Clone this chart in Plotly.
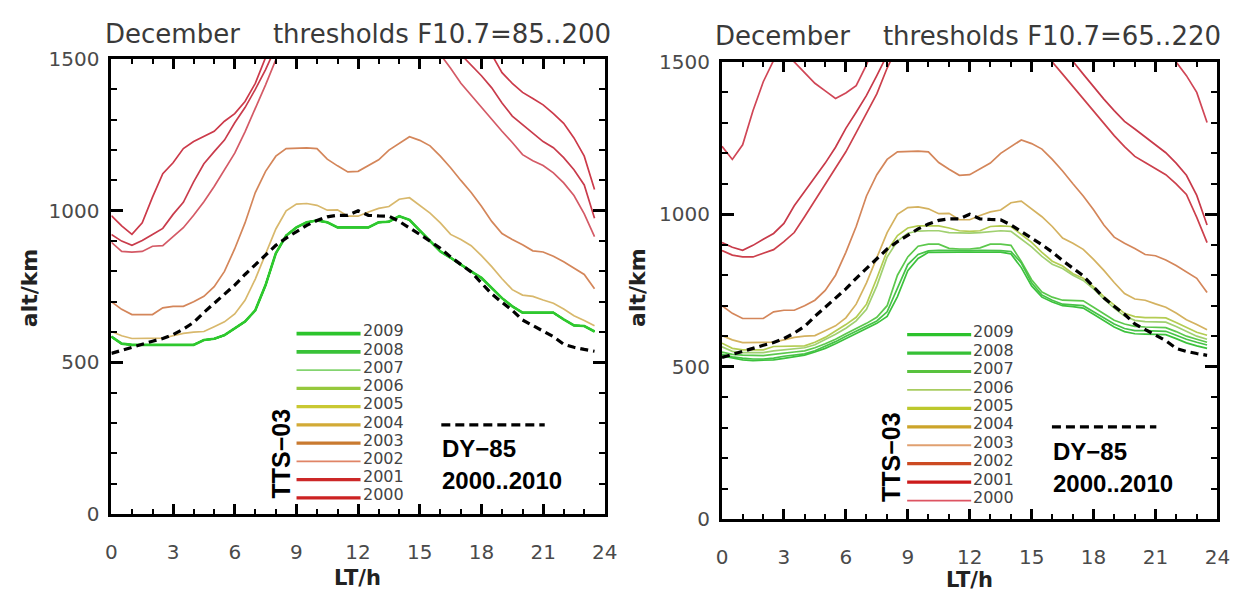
import numpy as np
import plotly.graph_objects as go

# ---------------------------------------------------------------- data
LT = np.arange(0, 24, 0.5)          # local time grid, hours

# F10.7 = 85..200 thresholds (left panel)
left_2000 = [984, 950, 922, 960, 1045, 1122, 1158, 1205, 1228, 1245, 1262, 1295, 1320, 1360, 1420, 1505,
             1600, 1680, 1760, 1830, 1890, 1930, 1960, 1980, 1990, 1990, 1980, 1960, 1930, 1890, 1840, 1790,
             1740, 1690, 1640, 1600, 1555, 1515, 1455, 1420, 1390, 1370, 1349, 1320, 1288, 1240, 1180, 1070]
left_2001 = [922, 900, 886, 902, 922, 942, 988, 1028, 1095, 1155, 1195, 1233, 1290, 1340, 1400, 1465,
             1540, 1610, 1670, 1720, 1760, 1790, 1810, 1820, 1820, 1810, 1790, 1760, 1720, 1680, 1640, 1600,
             1570, 1545, 1515, 1480, 1445, 1405, 1355, 1312, 1285, 1255, 1228, 1208, 1175, 1135, 1085, 975]
left_2002 = [896, 866, 864, 866, 883, 885, 915, 944, 985, 1030, 1080, 1133, 1190, 1260, 1335, 1415,
             1498, 1560, 1610, 1650, 1680, 1700, 1710, 1712, 1705, 1690, 1670, 1645, 1615, 1590, 1560, 1535,
             1515, 1470, 1420, 1380, 1340, 1300, 1262, 1225, 1185, 1165, 1149, 1125, 1092, 1050, 990, 915]
# 2005..2009 coincide at the lower F10.7 limit
left_2005_09 = [585, 562, 558, 558, 558, 558, 558, 558, 558, 574, 578, 590, 612, 635, 672, 755,
                860, 918, 945, 962, 968, 962, 945, 945, 945, 945, 962, 964, 982, 970, 935, 900,
                866, 845, 822, 800, 779, 745, 712, 685, 664, 664, 664, 664, 642, 622, 620, 602]

# shared by both panels
tts_2003 = [700, 675, 658, 658, 658, 680, 685, 685, 700, 718, 750, 800, 875, 960, 1060, 1130,
            1180, 1205, 1207, 1207, 1205, 1170, 1148, 1128, 1130, 1148, 1168, 1200, 1222, 1244, 1232, 1214,
            1180, 1142, 1100, 1060, 1015, 965, 925, 905, 888, 868, 864, 850, 832, 812, 790, 743]
tts_2004 = [602, 588, 579, 579, 579, 580, 588, 596, 600, 602, 618, 634, 660, 705, 775, 860,
            940, 1000, 1022, 1024, 1018, 1002, 1003, 982, 982, 996, 1008, 1014, 1038, 1043, 1018, 992,
            960, 922, 905, 885, 852, 816, 776, 740, 722, 718, 706, 695, 676, 654, 638, 621]
dy85 = [530, 540, 552, 562, 570, 579, 592, 610, 632, 665, 695, 725, 755, 790, 822, 855,
        886, 910, 932, 952, 968, 980, 985, 985, 1000, 985, 983, 982, 965, 945, 922, 900,
        876, 848, 822, 798, 762, 726, 698, 672, 640, 622, 605, 585, 560, 550, 543, 537]

# F10.7 = 65..220 thresholds (right panel)
right_2000 = [1223, 1180, 1228, 1340, 1435, 1505, 1530, 1500, 1465, 1430, 1405, 1380, 1398, 1422, 1490, 1580,
              1680, 1780, 1870, 1950, 2010, 2060, 2090, 2110, 2120, 2115, 2100, 2075, 2040, 2000, 1955, 1910,
              1860, 1815, 1770, 1730, 1690, 1655, 1625, 1600, 1580, 1560, 1545, 1525, 1500, 1455, 1400, 1301]
right_2001 = [907, 892, 882, 898, 918, 937, 970, 1028, 1075, 1122, 1168, 1220, 1282, 1335, 1390, 1455,
              1525, 1600, 1660, 1710, 1750, 1780, 1800, 1810, 1810, 1800, 1780, 1750, 1715, 1675, 1640, 1600,
              1570, 1540, 1502, 1460, 1418, 1378, 1340, 1305, 1280, 1255, 1228, 1202, 1168, 1128, 1062, 965]
right_2002 = [881, 866, 860, 860, 872, 884, 910, 940, 992, 1045, 1098, 1150, 1205, 1268, 1330, 1395,
              1480, 1550, 1600, 1640, 1670, 1690, 1700, 1705, 1700, 1688, 1670, 1648, 1620, 1590, 1560, 1530,
              1500, 1460, 1420, 1378, 1340, 1297, 1258, 1222, 1190, 1170, 1150, 1130, 1100, 1065, 990, 907]
right_2005 = [577, 560, 555, 555, 555, 566, 566, 566, 568, 580, 596, 617, 638, 662, 705, 790,
              880, 930, 955, 962, 962, 962, 955, 946, 944, 946, 960, 962, 960, 935, 908, 875,
              846, 830, 805, 790, 762, 730, 702, 675, 664, 661, 661, 660, 645, 628, 613, 603]
right_2006 = [565, 550, 546, 546, 546, 552, 556, 558, 562, 572, 588, 606, 626, 650, 688, 765,
              860, 912, 938, 945, 946, 946, 940, 938, 938, 940, 944, 946, 944, 920, 893, 862,
              836, 822, 800, 783, 755, 722, 692, 666, 652, 648, 648, 646, 632, 616, 600, 590]
right_2007 = [548, 540, 538, 536, 536, 540, 545, 548, 552, 562, 575, 590, 608, 625, 642, 662,
              700, 800, 860, 895, 902, 902, 888, 886, 886, 890, 902, 902, 898, 845, 785, 745,
              728, 718, 718, 716, 695, 672, 652, 640, 632, 630, 630, 628, 615, 600, 590, 580]
right_2008 = [540, 532, 528, 525, 525, 528, 534, 538, 542, 552, 566, 582, 600, 617, 634, 650,
              680, 760, 835, 868, 880, 882, 881, 881, 881, 882, 882, 881, 878, 840, 775, 735,
              718, 705, 703, 700, 680, 660, 640, 625, 618, 618, 618, 616, 603, 590, 580, 571]
right_2009 = [535, 528, 522, 520, 520, 522, 527, 532, 538, 548, 560, 575, 592, 610, 626, 642,
              665, 730, 815, 855, 875, 876, 876, 876, 876, 876, 876, 876, 870, 825, 765, 728,
              712, 700, 697, 692, 672, 650, 630, 615, 608, 607, 607, 605, 592, 578, 568, 560]

YEARS = list(range(2000, 2010))

left_series = {2000: left_2000, 2001: left_2001, 2002: left_2002, 2003: tts_2003, 2004: tts_2004,
               2005: left_2005_09, 2006: left_2005_09, 2007: left_2005_09, 2008: left_2005_09,
               2009: left_2005_09}
right_series = {2000: right_2000, 2001: right_2001, 2002: right_2002, 2003: tts_2003, 2004: tts_2004,
                2005: right_2005, 2006: right_2006, 2007: right_2007, 2008: right_2008, 2009: right_2009}

# ---------------------------------------------------------------- styles
# year -> (legend colour, legend line width, curve colour)
left_style = {2000: ("#cc2222", 3.2, "#cc3a4a"), 2001: ("#cc2828", 3.2, "#c93c4c"),
              2002: ("#e08466", 1.8, "#d45a66"), 2003: ("#c97a30", 3.2, "#d4865a"),
              2004: ("#d2aa36", 3.2, "#d8b86c"), 2005: ("#c9c832", 3.2, "#30c830"),
              2006: ("#96c83c", 3.2, "#30c830"), 2007: ("#84d470", 1.8, "#30c830"),
              2008: ("#38c238", 3.6, "#30c830"), 2009: ("#2cc42c", 3.6, "#2ec82e")}
right_style = {2000: ("#dd5462", 1.8, "#d04656"), 2001: ("#cc1a1a", 3.2, "#c83a4a"),
               2002: ("#cc4a22", 3.2, "#cc404c"), 2003: ("#e0a070", 1.8, "#d4865a"),
               2004: ("#cca42a", 3.2, "#d4b260"), 2005: ("#bcc82c", 3.2, "#b4cc52"),
               2006: ("#a8cc60", 1.8, "#a0d070"), 2007: ("#58c23e", 3.2, "#5cc84c"),
               2008: ("#36c036", 3.2, "#48c248"), 2009: ("#2cc22c", 3.2, "#3cc23c")}

W, H = 1256, 603


def fx(x):
    return x / W


def fy(y):
    return 1 - y / H


TICK_FONT = dict(family="DejaVu Sans", size=20, color="#4a4a4a")
BOLD_FONT = "Liberation Sans, Arial, sans-serif"

fig = go.Figure()

panels = [
    dict(series=left_series, style=left_style, xa="x", ya="y", wide2009=True),
    dict(series=right_series, style=right_style, xa="x2", ya="y2", wide2009=False),
]

for p in panels:
    for yr in YEARS:
        col = p["style"][yr][2]
        width = 2.6 if (p["wide2009"] and yr == 2009) else 1.7
        fig.add_trace(go.Scatter(x=LT, y=p["series"][yr], mode="lines",
                                 line=dict(color=col, width=width),
                                 xaxis=p["xa"], yaxis=p["ya"], showlegend=False,
                                 hoverinfo="skip"))
    fig.add_trace(go.Scatter(x=LT, y=dy85, mode="lines",
                             line=dict(color="black", width=3.2, dash="8px,5px"),
                             xaxis=p["xa"], yaxis=p["ya"], showlegend=False, hoverinfo="skip"))


def xaxis(dom, anchor):
    return dict(domain=dom, range=[0, 24], tickmode="linear", tick0=0, dtick=3,
                ticks="inside", ticklen=10, tickwidth=2.6, tickcolor="black",
                showline=True, linewidth=3, linecolor="black", mirror="allticks",
                showgrid=False, zeroline=False, tickfont=TICK_FONT, ticklabelstandoff=18,
                minor=dict(ticks="inside", ticklen=5, tickwidth=2, tickcolor="black",
                           dtick=1, tick0=0, showgrid=False),
                anchor=anchor, fixedrange=True)


def yaxis(dom, anchor):
    return dict(domain=dom, range=[0, 1500], tickmode="linear", tick0=0, dtick=500,
                ticks="inside", ticklen=12, tickwidth=2.6, tickcolor="black",
                showline=True, linewidth=3, linecolor="black", mirror="allticks",
                showgrid=False, zeroline=False, tickfont=TICK_FONT, ticklabelstandoff=5,
                minor=dict(ticks="inside", ticklen=6, tickwidth=2, tickcolor="black",
                           dtick=100, tick0=0, showgrid=False),
                anchor=anchor, fixedrange=True)


ax_l = dict(x0=107, x1=608, ytop=49, ybot=523)
ax_r = dict(x0=727, x1=1230, ytop=52, ybot=528)

annotations = []
shapes = []


def text(x, y, s, size, color="#333333", family="DejaVu Sans", bold=False, angle=0,
         xanchor="center", yanchor="middle"):
    annotations.append(dict(x=fx(x), y=fy(y), xref="paper", yref="paper", text=s,
                            showarrow=False, textangle=angle, xanchor=xanchor, yanchor=yanchor,
                            borderpad=0,
                            font=dict(family=family, size=size, color=color,
                                      weight="bold" if bold else "normal")))


SP = "\u00a0" * 4
text(357, 23, "December" + SP + "thresholds F10.7=85..200", 26, color="#3a3a3a")
text(977, 25, "December" + SP + "thresholds F10.7=65..220", 26, color="#3a3a3a")

for cx in (24, 641):
    text(cx, 287, "alt/km", 22, color="#222222", bold=True, angle=-90)
text(357, 589, "LT/h", 21, color="#222222", bold=True)
text(978, 592, "LT/h", 21, color="#222222", bold=True)

# legends
legends = [
    dict(style=left_style, x0=295, x1=360, y0=335, step=19.0, tts=(279, 460),
         dash_y=430, dash_x=(442, 547), dy_y=455, span_y=488),
    dict(style=right_style, x0=915, x1=980, y0=336, step=19.2, tts=(898, 463),
         dash_y=432, dash_x=(1062, 1168), dy_y=458, span_y=491),
]
for lg in legends:
    for i, yr in enumerate(reversed(YEARS)):
        col, lw, _ = lg["style"][yr]
        yy = lg["y0"] + i * lg["step"]
        shapes.append(dict(type="line", xref="paper", yref="paper",
                           x0=fx(lg["x0"]), x1=fx(lg["x1"]), y0=fy(yy), y1=fy(yy),
                           line=dict(color=col, width=lw)))
        text(lg["x1"] + 1, yy - 3, str(yr), 16, color="#444444", xanchor="left")
    text(lg["tts"][0], lg["tts"][1], "TTS\u221203", 25, color="black",
         family=BOLD_FONT, bold=True, angle=-90)
    shapes.append(dict(type="line", xref="paper", yref="paper",
                       x0=fx(lg["dash_x"][0]), x1=fx(lg["dash_x"][1]),
                       y0=fy(lg["dash_y"]), y1=fy(lg["dash_y"]),
                       line=dict(color="black", width=3.2, dash="9px,5px")))
    text(lg["dash_x"][0], lg["dy_y"], "DY\u221285", 24, color="black",
         family=BOLD_FONT, bold=True, xanchor="left")
    text(lg["dash_x"][0], lg["span_y"], "2000..2010", 24, color="black",
         family=BOLD_FONT, bold=True, xanchor="left")

fig.update_layout(
    width=W, height=H, autosize=False,
    margin=dict(l=0, r=0, t=0, b=0),
    paper_bgcolor="white", plot_bgcolor="white",
    xaxis=xaxis([fx(ax_l["x0"]), fx(ax_l["x1"])], "y"),
    xaxis2=xaxis([fx(ax_r["x0"]), fx(ax_r["x1"])], "y2"),
    yaxis=yaxis([fy(ax_l["ybot"]), fy(ax_l["ytop"])], "x"),
    yaxis2=yaxis([fy(ax_r["ybot"]), fy(ax_r["ytop"])], "x2"),
    annotations=annotations, shapes=shapes, showlegend=False,
)

fig.write_html("out.html", config=dict(displayModeBar=False))
